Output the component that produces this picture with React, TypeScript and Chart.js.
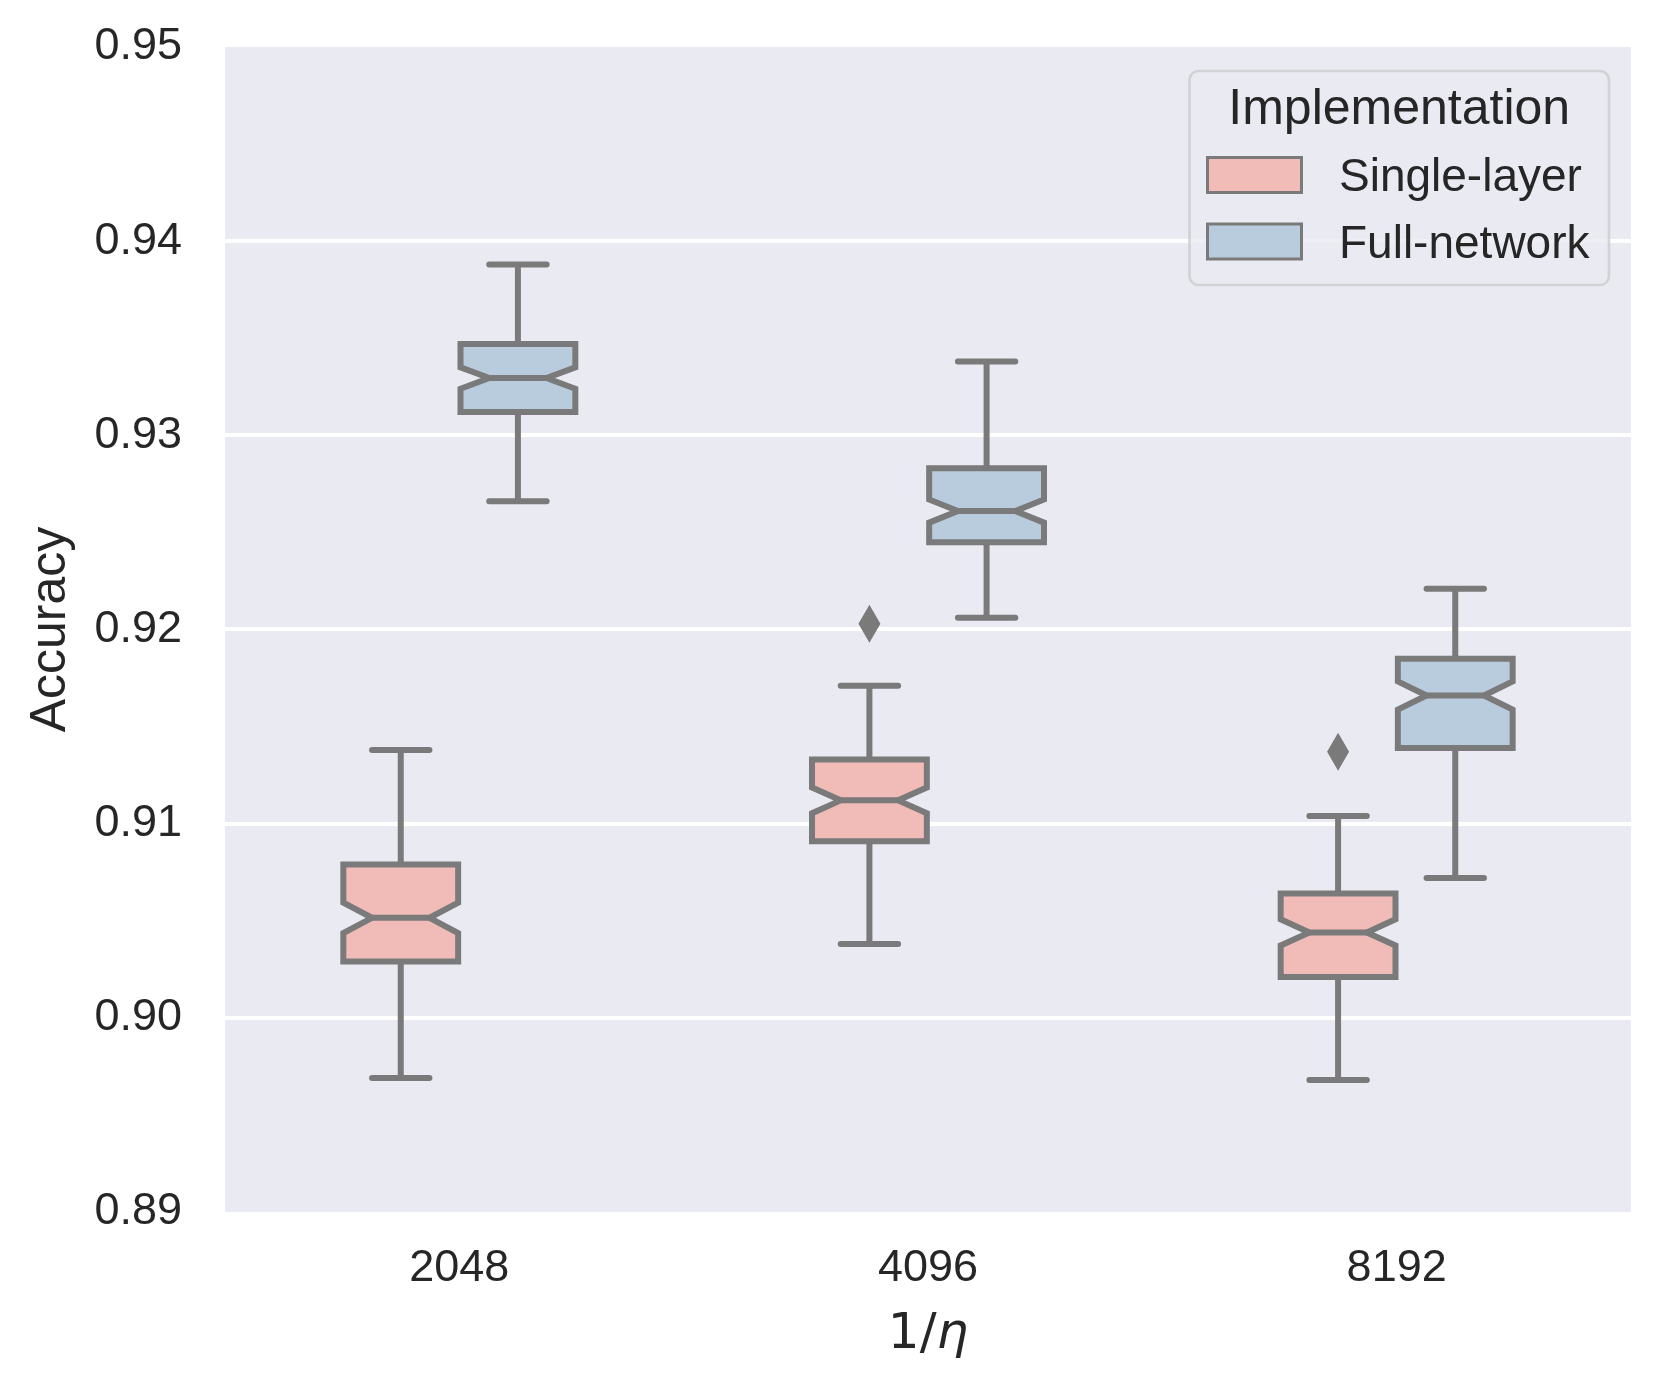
import React, { useEffect, useRef } from 'react';
import { Chart, registerables } from 'chart.js';

Chart.register(...registerables);

// ---- data ----
const categories = ['2048', '4096', '8192'];
const seriesNames = ['Single-layer', 'Full-network'];
const legendTitle = 'Implementation';
const yAxisTitle = 'Accuracy';
const xAxisTitleUpright = '1/';
const xAxisTitleItalic = 'η';
const yTicks = [0.89, 0.9, 0.91, 0.92, 0.93, 0.94, 0.95];

const singleMin = [0.8969, 0.9038, 0.8968];
const singleQ1 = [0.9029, 0.9091, 0.9021];
const singleMedian = [0.90515, 0.9112, 0.9044];
const singleQ3 = [0.9079, 0.9133, 0.9064];
const singleMax = [0.9138, 0.9171, 0.9104];
const singleOutliers: number[][] = [[], [0.9203], [0.9137]];

const fullMin = [0.9266, 0.9206, 0.9072];
const fullQ1 = [0.9312, 0.9245, 0.9139];
const fullMedian = [0.93295, 0.9261, 0.9166];
const fullQ3 = [0.9347, 0.9283, 0.9185];
const fullMax = [0.9388, 0.9338, 0.9221];
const fullOutliers: number[][] = [[], [], []];

const sampleCount = 100; // samples per box, used for the notch width (1.57*IQR/sqrt(n))

// ---- styles ----
const fillColors = ['rgb(241,188,184)', 'rgb(185,204,221)'];
const lineGray = '#7a7a7a';
const textColor = '#262626';
const plotBg = '#EAEAF2';
const fontSans = "'Liberation Sans', Arial, sans-serif";
const fontMath = "'DejaVu Sans', sans-serif";

const stats = [
  { min: singleMin, q1: singleQ1, med: singleMedian, q3: singleQ3, max: singleMax, out: singleOutliers },
  { min: fullMin, q1: fullQ1, med: fullMedian, q3: fullQ3, max: fullMax, out: fullOutliers },
];

const boxPlugin = {
  id: 'notchedBoxes',
  beforeDraw(chart: any) {
    const { ctx, chartArea } = chart;
    ctx.save();
    ctx.fillStyle = plotBg;
    ctx.fillRect(chartArea.left, chartArea.top, chartArea.right - chartArea.left, chartArea.bottom - chartArea.top);
    ctx.restore();
  },
  afterDatasetsDraw(chart: any) {
    const { ctx } = chart;
    const ys = chart.scales.y;
    ctx.save();
    stats.forEach((s, di) => {
      const meta = chart.getDatasetMeta(di);
      meta.data.forEach((bar: any, i: number) => {
        const cx = bar.x;
        const w = bar.width;
        const left = cx - w / 2;
        const right = cx + w / 2;
        const tipL = cx - w / 4;
        const tipR = cx + w / 4;
        const notch = (1.57 * (s.q3[i] - s.q1[i])) / Math.sqrt(sampleCount);
        const pq1 = ys.getPixelForValue(s.q1[i]);
        const pq3 = ys.getPixelForValue(s.q3[i]);
        const pmed = ys.getPixelForValue(s.med[i]);
        const pnlo = ys.getPixelForValue(s.med[i] - notch);
        const pnhi = ys.getPixelForValue(s.med[i] + notch);
        const pmin = ys.getPixelForValue(s.min[i]);
        const pmax = ys.getPixelForValue(s.max[i]);

        ctx.strokeStyle = lineGray;
        ctx.lineWidth = 6;

        // whiskers
        ctx.lineCap = 'butt';
        ctx.beginPath();
        ctx.moveTo(cx, pq1);
        ctx.lineTo(cx, pmin);
        ctx.moveTo(cx, pq3);
        ctx.lineTo(cx, pmax);
        ctx.stroke();
        // caps
        ctx.lineCap = 'round';
        ctx.beginPath();
        ctx.moveTo(cx - w / 4, pmin);
        ctx.lineTo(cx + w / 4, pmin);
        ctx.moveTo(cx - w / 4, pmax);
        ctx.lineTo(cx + w / 4, pmax);
        ctx.stroke();

        // notched box
        ctx.lineCap = 'butt';
        ctx.lineJoin = 'miter';
        ctx.beginPath();
        ctx.moveTo(left, pq1);
        ctx.lineTo(right, pq1);
        ctx.lineTo(right, pnlo);
        ctx.lineTo(tipR, pmed);
        ctx.lineTo(right, pnhi);
        ctx.lineTo(right, pq3);
        ctx.lineTo(left, pq3);
        ctx.lineTo(left, pnhi);
        ctx.lineTo(tipL, pmed);
        ctx.lineTo(left, pnlo);
        ctx.closePath();
        ctx.fillStyle = fillColors[di];
        ctx.fill();
        ctx.stroke();

        // median
        ctx.beginPath();
        ctx.moveTo(tipL, pmed);
        ctx.lineTo(tipR, pmed);
        ctx.stroke();

        // outliers (thin diamonds)
        ctx.fillStyle = lineGray;
        s.out[i].forEach((v) => {
          const py = ys.getPixelForValue(v);
          ctx.beginPath();
          ctx.moveTo(cx, py - 19);
          ctx.lineTo(cx + 11, py);
          ctx.lineTo(cx, py + 19);
          ctx.lineTo(cx - 11, py);
          ctx.closePath();
          ctx.fill();
        });
      });
    });
    ctx.restore();
  },
  afterDraw(chart: any) {
    const { ctx, chartArea } = chart;
    ctx.save();

    // x-axis title: 1/η (η italic, mathtext style)
    ctx.fillStyle = textColor;
    ctx.textBaseline = 'alphabetic';
    ctx.textAlign = 'left';
    ctx.font = `50px ${fontMath}`;
    const w1 = ctx.measureText(xAxisTitleUpright).width;
    ctx.font = `italic 50px ${fontMath}`;
    const w2 = ctx.measureText(xAxisTitleItalic).width;
    const cxT = (chartArea.left + chartArea.right) / 2;
    const xStart = cxT - (w1 + w2) / 2;
    const baseY = chartArea.bottom + 136;
    ctx.font = `50px ${fontMath}`;
    ctx.fillText(xAxisTitleUpright, xStart, baseY);
    ctx.font = `italic 50px ${fontMath}`;
    ctx.fillText(xAxisTitleItalic, xStart + w1, baseY);

    // legend
    const bw = 419.5;
    const bh = 214;
    const bx = chartArea.right - 22 - bw;
    const by = chartArea.top + 24;
    ctx.beginPath();
    ctx.roundRect(bx, by, bw, bh, 9);
    ctx.fillStyle = 'rgba(234,234,242,0.8)';
    ctx.fill();
    ctx.lineWidth = 2.7;
    ctx.strokeStyle = 'rgba(204,204,204,0.8)';
    ctx.stroke();

    ctx.fillStyle = textColor;
    ctx.textAlign = 'center';
    ctx.font = `50px ${fontSans}`;
    ctx.fillText(legendTitle, bx + bw / 2, by + 53);

    const rowTops = [86.5, 153];
    const rowBase = [120, 186.5];
    seriesNames.forEach((name, k) => {
      ctx.fillStyle = fillColors[k];
      ctx.fillRect(bx + 18, by + rowTops[k], 94, 35);
      ctx.lineWidth = 3;
      ctx.strokeStyle = lineGray;
      ctx.strokeRect(bx + 18, by + rowTops[k], 94, 35);
      ctx.fillStyle = textColor;
      ctx.textAlign = 'left';
      ctx.font = `46px ${fontSans}`;
      ctx.fillText(name, bx + 149.5, by + rowBase[k]);
    });

    ctx.restore();
  },
};

export default function App() {
  const canvasRef = useRef<HTMLCanvasElement | null>(null);

  useEffect(() => {
    const canvas = canvasRef.current;
    if (!canvas) return;
    const chart = new Chart(canvas, {
      type: 'bar',
      data: {
        labels: categories,
        datasets: stats.map((s, di) => ({
          label: seriesNames[di],
          data: categories.map((_, i) => [s.q1[i], s.q3[i]] as any),
          backgroundColor: 'rgba(0,0,0,0)',
          borderWidth: 0,
          categoryPercentage: 0.5,
          barPercentage: 0.98,
        })),
      },
      options: {
        animation: false,
        responsive: false,
        devicePixelRatio: 1,
        layout: { padding: { top: 47, right: 31, left: 0, bottom: 0 } },
        plugins: {
          legend: { display: false },
          tooltip: { enabled: false },
        },
        scales: {
          x: {
            type: 'category',
            grid: { display: false, drawTicks: false },
            border: { display: false },
            ticks: {
              color: textColor,
              font: { family: fontSans, size: 45 },
              padding: 30,
              maxRotation: 0,
            },
            afterFit: (scale: any) => {
              scale.height = 180;
              scale.paddingLeft = 0;
              scale.paddingRight = 0;
            },
          },
          y: {
            type: 'linear',
            min: 0.89,
            max: 0.95,
            grid: {
              drawTicks: false,
              lineWidth: 4,
              color: (c: any) => {
                const v = c.tick ? c.tick.value : 0;
                return Math.abs(v - 0.89) < 1e-6 || Math.abs(v - 0.95) < 1e-6 ? 'rgba(0,0,0,0)' : '#ffffff';
              },
            },
            border: { display: false },
            afterBuildTicks: (scale: any) => {
              scale.ticks = yTicks.map((v) => ({ value: v }));
            },
            ticks: {
              color: textColor,
              font: { family: fontSans, size: 45 },
              padding: 43,
              callback: (v: any) => Number(v).toFixed(2),
            },
            title: {
              display: true,
              text: yAxisTitle,
              color: textColor,
              font: { family: fontSans, size: 50 },
              padding: { top: 21, bottom: 0 },
            },
            afterFit: (scale: any) => {
              scale.width = 225;
              scale.paddingTop = 0;
              scale.paddingBottom = 0;
            },
          },
        },
      },
      plugins: [boxPlugin],
    });
    return () => chart.destroy();
  }, []);

  return (
    <div style={{ position: 'absolute', left: 0, top: 0, width: 1662, height: 1392, background: '#ffffff' }}>
      <canvas ref={canvasRef} width={1662} height={1392} style={{ display: 'block', width: 1662, height: 1392 }} />
    </div>
  );
}
